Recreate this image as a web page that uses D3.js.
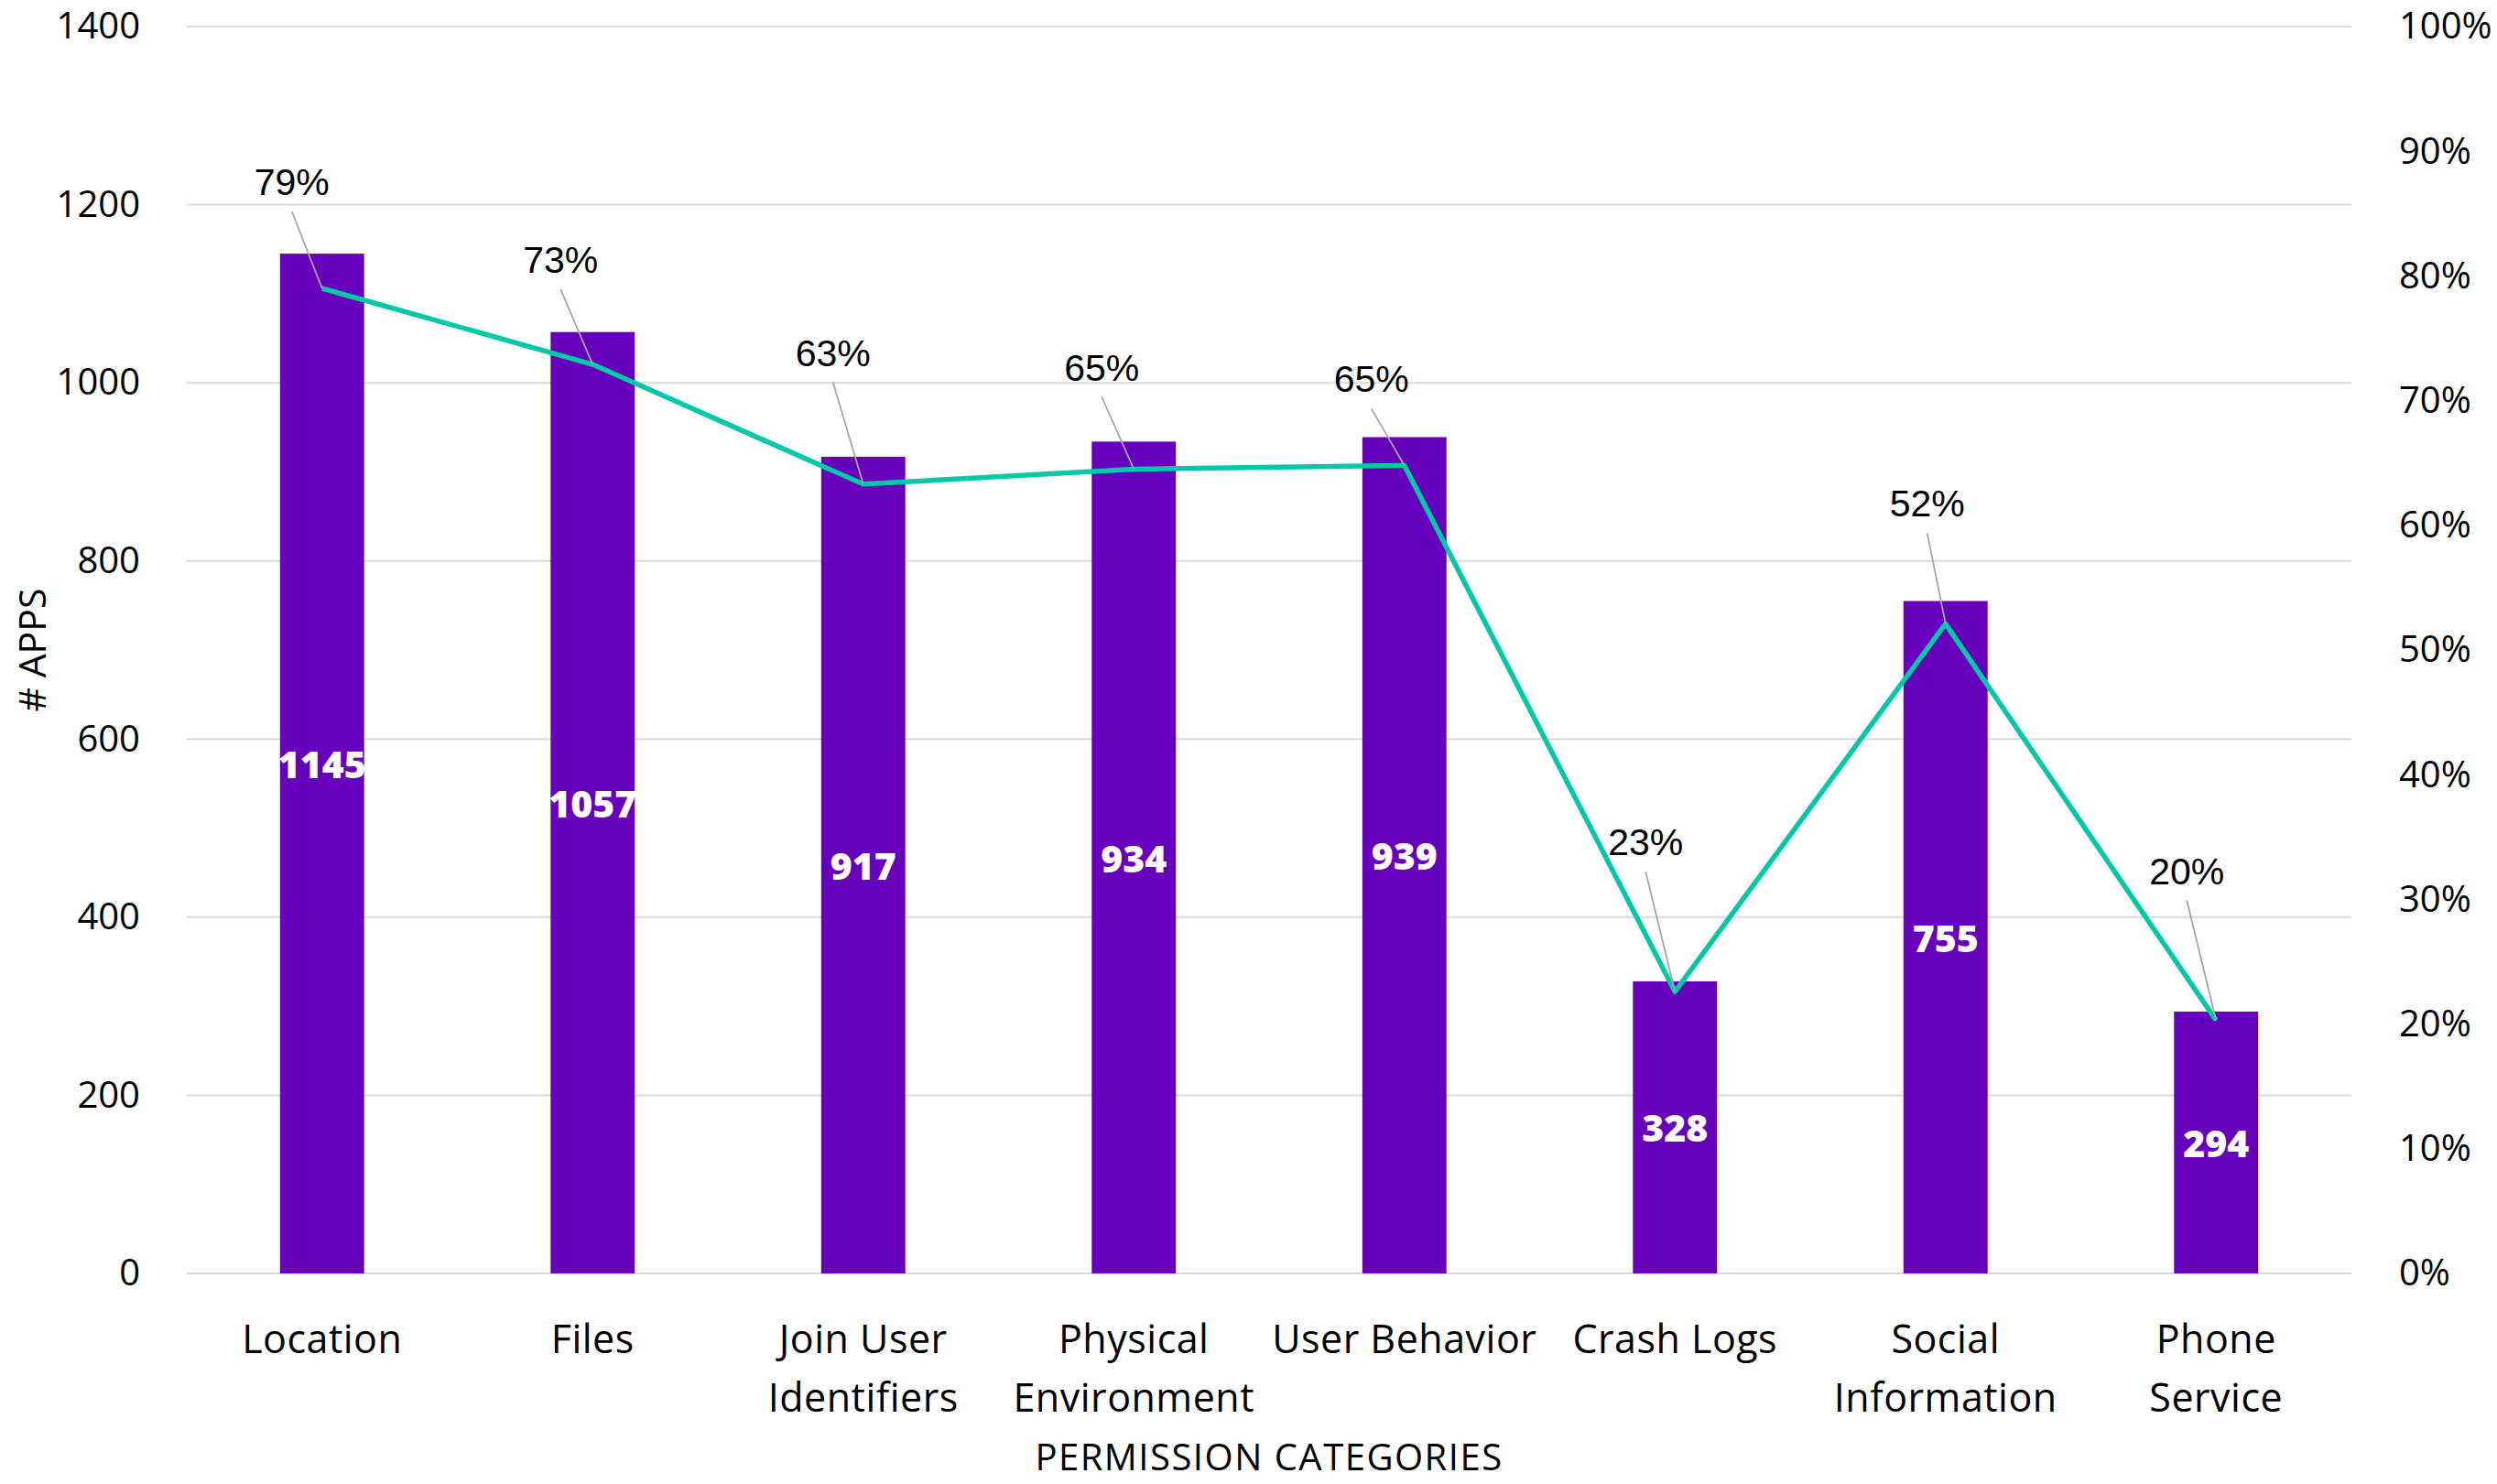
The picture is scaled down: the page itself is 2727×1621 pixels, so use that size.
<!DOCTYPE html>
<html>
<head>
<meta charset="utf-8">
<script src="https://cdn.jsdelivr.net/npm/d3@7"></script>
<style>
  html, body { margin: 0; padding: 0; background: #ffffff; }
  svg { display: block; }
</style>
</head>
<body>
<svg id="chart" width="2727" height="1621"></svg>
<script>
// ---- data ----
const categories = [
  ["Location"],
  ["Files"],
  ["Join User", "Identifiers"],
  ["Physical", "Environment"],
  ["User Behavior"],
  ["Crash Logs"],
  ["Social", "Information"],
  ["Phone", "Service"]
];
const appCounts = [1145, 1057, 917, 934, 939, 328, 755, 294];
const shareValues = [0.790, 0.729, 0.633, 0.645, 0.648, 0.226, 0.521, 0.203];
const shareLabels = ["79%", "73%", "63%", "65%", "65%", "23%", "52%", "20%"];
const leftTicks = [0, 200, 400, 600, 800, 1000, 1200, 1400];
const rightTicks = [0, 0.1, 0.2, 0.3, 0.4, 0.5, 0.6, 0.7, 0.8, 0.9, 1.0];
const yTitle = "# APPS";
const xTitle = "PERMISSION CATEGORIES";

// ---- layout ----
const plotLeft = 204, plotRight = 2568, plotTop = 29, plotBottom = 1391;
const barFrac = 0.311;
// label offsets (dx, dy) from line point, in pixels
const labelOffsets = [[-33,-116],[-35,-114],[-33,-143],[-35,-111],[-36,-94],[-32,-163],[-20,-131],[-32,-163]];

const svg = d3.select("#chart");
const keys = categories.map(c => c.join(" "));
const x = d3.scaleBand().domain(keys).range([plotLeft, plotRight]).padding(0);
const yL = d3.scaleLinear().domain([0, 1400]).range([plotBottom, plotTop]);
const yR = d3.scaleLinear().domain([0, 1]).range([plotBottom, plotTop]);

const font = "'Open Sans', 'Noto Sans', sans-serif";

// gridlines
svg.append("g").selectAll("line").data(leftTicks).join("line")
  .attr("x1", plotLeft).attr("x2", plotRight)
  .attr("y1", d => yL(d)).attr("y2", d => yL(d))
  .attr("stroke", "#d9d9d9").attr("stroke-width", 2);

// left axis
const gl = svg.append("g").attr("transform", `translate(${plotLeft},0)`)
  .call(d3.axisLeft(yL).tickValues(leftTicks).tickSize(0).tickPadding(51).tickFormat(d3.format("d")));
gl.select(".domain").remove();
gl.selectAll("text").attr("font-family", font).attr("font-size", 40).attr("fill", "#000");

// right axis
const gr = svg.append("g").attr("transform", `translate(${plotRight},0)`)
  .call(d3.axisRight(yR).tickValues(rightTicks).tickSize(0).tickPadding(52).tickFormat(d3.format(".0%")));
gr.select(".domain").remove();
gr.selectAll("text").attr("font-family", font).attr("font-size", 40).attr("fill", "#000");

// bars
const bw = x.bandwidth() * barFrac;
const cx = i => x(keys[i]) + x.bandwidth() / 2;
svg.append("g").selectAll("rect").data(appCounts).join("rect")
  .attr("x", (d, i) => cx(i) - bw / 2)
  .attr("width", bw)
  .attr("y", d => yL(d))
  .attr("height", d => yL(0) - yL(d))
  .attr("fill", "#6600bc");

// bar value labels
svg.append("g").selectAll("text").data(appCounts).join("text")
  .attr("x", (d, i) => cx(i))
  .attr("y", d => (yL(d) + yL(0)) / 2)
  .attr("text-anchor", "middle").attr("dominant-baseline", "central")
  .attr("font-family", font).attr("font-weight", 800).attr("font-size", 41)
  .attr("fill", "#ffffff")
  .text(d => d);

// line
const line = d3.line().x((d, i) => cx(i)).y(d => yR(d));
svg.append("path").datum(shareValues)
  .attr("d", line).attr("fill", "none")
  .attr("stroke", "#00c9a7").attr("stroke-width", 5.5).attr("stroke-linejoin", "round");

// leader lines & percent labels
const lab = svg.append("g");
shareValues.forEach((v, i) => {
  const px = cx(i), py = yR(v);
  const lx = px + labelOffsets[i][0], ly = py + labelOffsets[i][1];
  lab.append("line")
    .attr("x1", lx).attr("y1", ly + 32).attr("x2", px).attr("y2", py)
    .attr("stroke", "#a6a6a6").attr("stroke-width", 1.8);
  lab.append("text")
    .attr("x", lx).attr("y", ly)
    .attr("text-anchor", "middle").attr("dominant-baseline", "central")
    .attr("font-family", "'Liberation Sans', Arial, sans-serif").attr("font-size", 41)
    .attr("fill", "#000")
    .text(shareLabels[i]);
});

// category labels
const cl = svg.append("g");
categories.forEach((lines, i) => {
  lines.forEach((t, j) => {
    cl.append("text")
      .attr("x", cx(i)).attr("y", 1461 + j * 64)
      .attr("text-anchor", "middle").attr("dominant-baseline", "central")
      .attr("font-family", font).attr("font-size", 43).attr("letter-spacing", 0.5).attr("fill", "#000")
      .text(t);
  });
});

// axis titles
svg.append("text")
  .attr("x", (plotLeft + plotRight) / 2).attr("y", 1590)
  .attr("text-anchor", "middle").attr("dominant-baseline", "central")
  .attr("font-family", font).attr("font-size", 40).attr("letter-spacing", 1.5).attr("fill", "#000")
  .text(xTitle);

svg.append("text")
  .attr("transform", `translate(34,${(plotTop + plotBottom) / 2}) rotate(-90)`)
  .attr("text-anchor", "middle").attr("dominant-baseline", "central")
  .attr("font-family", font).attr("font-size", 41).attr("fill", "#000")
  .text(yTitle);
</script>
</body>
</html>
